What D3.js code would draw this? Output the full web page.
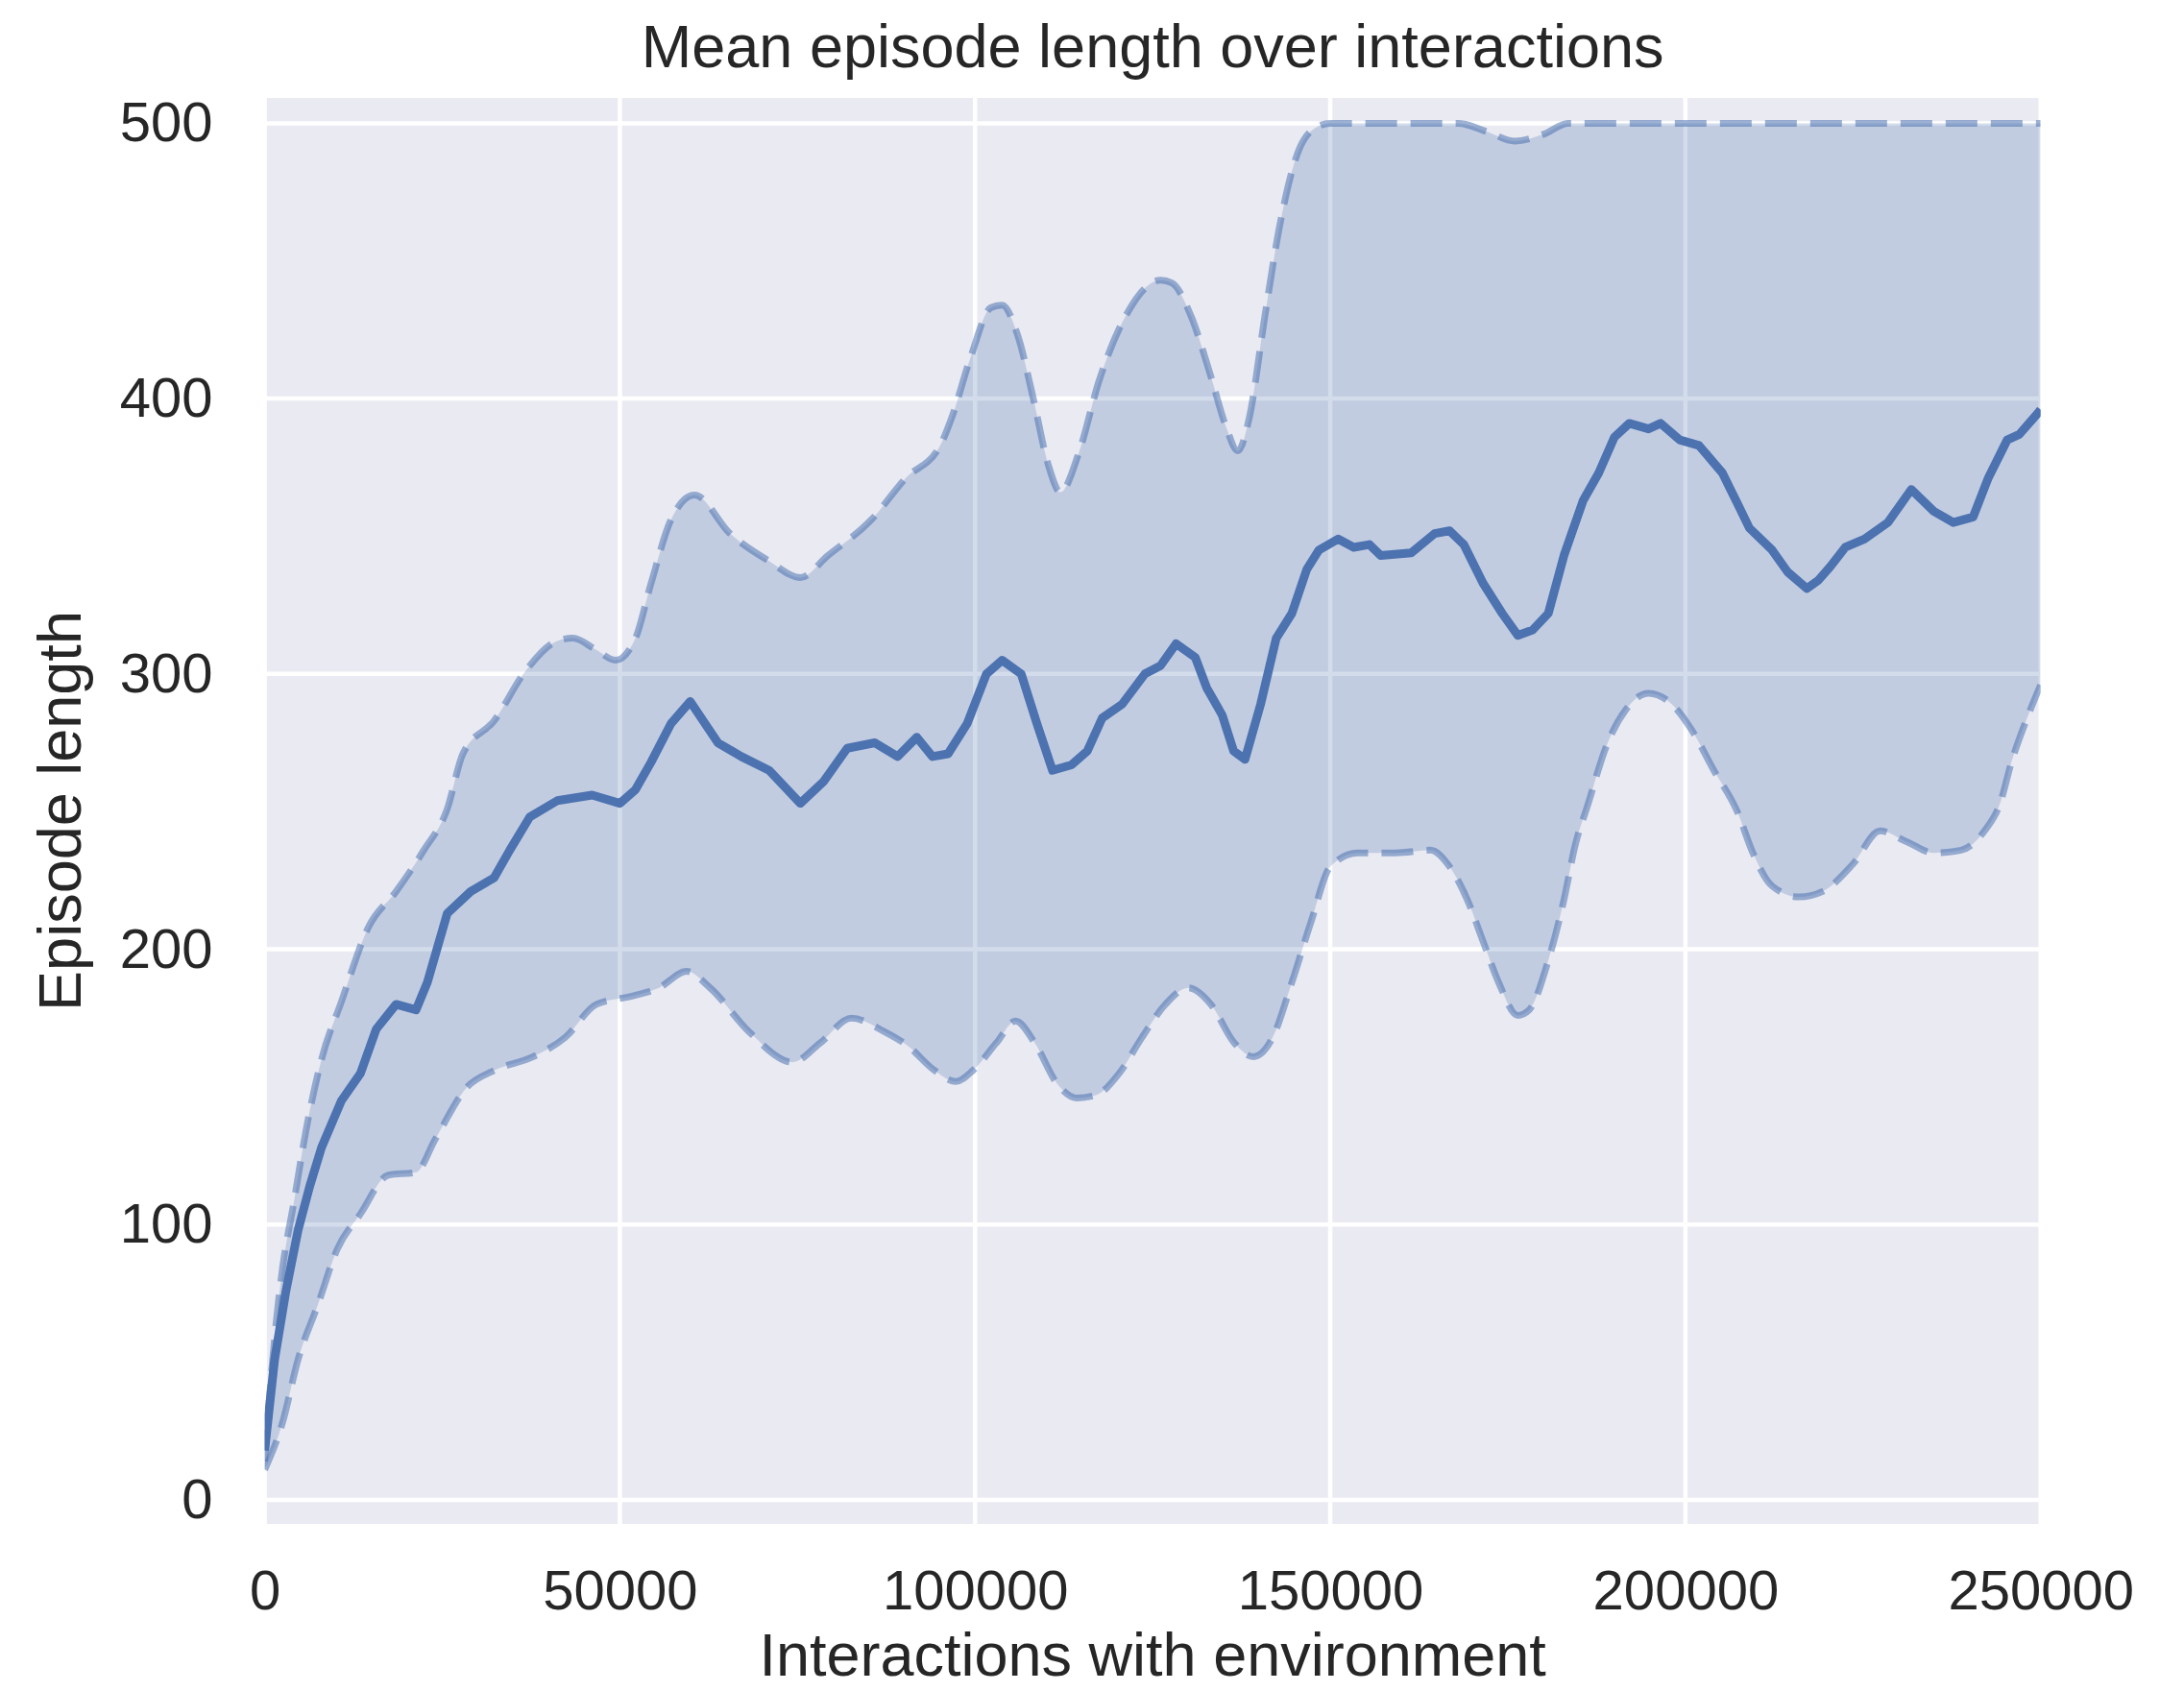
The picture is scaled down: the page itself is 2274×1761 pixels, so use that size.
<!DOCTYPE html>
<html>
<head>
<meta charset="utf-8">
<script src="https://cdn.jsdelivr.net/npm/d3@7"></script>
<style>
  body { margin: 0; background: #fff; }
  text { font-family: "Liberation Sans", Arial, sans-serif; fill: #262626; }
</style>
</head>
<body>
<svg width="2274" height="1761"></svg>
<script>
var svg = d3.select('svg');

// mean curve
var meanX = [0, 1400, 3000, 4700, 6350, 8000, 10800, 13500, 15700, 18500, 21300, 22900, 25700, 29000, 32300, 34500, 37300, 41200, 46100, 50000,
    52200, 54400, 57200, 59900, 63800, 67100, 71000, 75400, 78700, 82000, 85900, 89100, 91800, 94000, 96200, 98900, 101600, 103800, 106500, 108700,
    110900, 113600, 115800, 117900, 120700, 123900, 126100, 128300, 131000, 132600, 134800, 136400, 138000, 140200, 142400, 144600, 146700, 148400,
    151100, 153300, 155500, 157100, 161400, 164700, 166800, 168800, 171500, 174200, 176400, 178500, 180700, 182900, 185600, 187800, 190000, 192100,
    194800, 196500, 199200, 201900, 205200, 207300, 209000, 212200, 214400, 217100, 218700, 220400, 222500, 225200, 228500, 231800, 235000, 237700,
    240500, 242600, 245300, 247000, 249700, 250000];
var meanY = [18, 51, 76, 98, 114, 128, 145, 155, 171, 180, 178, 188, 213, 221, 226, 236, 248, 254, 256, 253,
    258, 268, 282, 290, 275, 270, 265, 253, 261, 273, 275, 270, 277, 270, 271, 282, 300, 305, 300, 282,
    265, 267, 272, 284, 289, 300, 303, 311, 306, 295, 285, 272, 269, 289, 313, 322, 338, 345,
    349, 346, 347, 343, 344, 351, 352, 347, 333, 322, 314, 316, 322, 343, 363, 373, 386, 391,
    389, 391, 385, 383, 373, 362, 353, 345, 337, 331, 334, 339, 346, 349, 355, 367, 359, 355,
    357, 371, 385, 387, 395, 396];

// upper bound (dashed)
var upperX = [0, 1400, 2500, 4100, 5800, 8000, 10800, 14600, 18500, 22400, 25700, 27900, 32300, 36700, 41200, 43400, 46500, 49400, 52200, 54400,
    57200, 60500, 65500, 71000, 75400, 79300, 85400, 90200, 95100, 96700, 99500, 102200, 103800, 106000, 108200, 110300, 112000, 114700, 117400,
    121200, 126100, 127700, 130400, 133200, 135300, 137000, 138600, 140800, 142900, 145700, 148400, 150000, 168000, 172000, 176000, 180000, 183500, 250000];
var upperY = [14, 59, 84, 108, 134, 160, 181, 208, 221, 236, 251, 271, 283, 301, 312, 313, 309, 305, 313, 333,
    356, 365, 351, 341, 335, 343, 356, 371, 383, 393, 416, 433, 434, 423, 400, 376, 366, 381, 406,
    430, 443, 442, 430, 408, 390, 381, 393, 430, 463, 491, 499, 500, 500, 497, 493.5, 496, 500, 500];

// lower bound (dashed)
var lowerX = [0, 2500, 4700, 7500, 10200, 13500, 17400, 21300, 24000, 28500, 32300, 37800, 42300, 46700, 51700, 55500, 59400, 62700, 68200, 74300,
    78200, 82600, 87300, 90500, 94300, 97300, 99700, 103000, 105700, 108400, 111600, 114300, 117000, 120300, 123500, 126800, 130000, 133200, 136500,
    139200, 141900, 144600, 147300, 150000, 153800, 159200, 164100, 166800, 169300, 171500, 173700, 176400, 178000, 180700, 182900, 184500, 186200,
    188900, 191600, 194800, 198100, 200800, 204000, 207300, 209500, 212200, 216000, 219300, 223600, 227400, 231200, 235000, 238800, 242100, 244300,
    245900, 248100, 250000];
var lowerY = [11, 28, 51, 71, 91, 104, 118, 119, 131, 150, 156, 161, 168, 180, 183, 186, 192, 186, 170, 159,
    166, 175, 170, 165, 156, 152, 156, 166, 174, 166, 151, 146, 147, 155, 168, 180, 186, 180, 166,
    161, 168, 188, 210, 230, 235, 235, 236, 230, 218, 203, 188, 176, 178, 196, 218, 238, 252,
    274, 287, 293, 289, 280, 265, 250, 235, 223, 219, 221, 231, 243, 239, 235, 236, 243, 253,
    268, 284, 296];

var xTicks = [0, 50000, 100000, 150000, 200000, 250000];
var yTicks = [0, 100, 200, 300, 400, 500];

var plotLeft = 275.6, plotRight = 2124.7, plotTop = 102, plotBottom = 1587;

var x = d3.scaleLinear().domain([0, 250000]).range([plotLeft, plotRight]);
var y = d3.scaleLinear().domain([-8.7, 509.2]).range([plotBottom, plotTop]);

var blue = '#4C72B0';

// background
svg.append('rect')
    .attr('x', plotLeft).attr('y', plotTop)
    .attr('width', plotRight - plotLeft).attr('height', plotBottom - plotTop)
    .attr('fill', '#EAEAF2');

// grid
svg.selectAll('.hgrid')
    .data(yTicks)
    .enter()
    .append('line')
    .attr('x1', plotLeft).attr('x2', plotRight)
    .attr('y1', function (d) { return y(d); })
    .attr('y2', function (d) { return y(d); })
    .attr('stroke', '#fff').attr('stroke-width', 4.5);

svg.selectAll('.vgrid')
    .data(xTicks)
    .enter()
    .append('line')
    .attr('y1', plotTop).attr('y2', plotBottom)
    .attr('x1', function (d) { return x(d); })
    .attr('x2', function (d) { return x(d); })
    .attr('stroke', '#fff').attr('stroke-width', 4.5);

function pts(xs, ys) {
    return xs.map(function (d, i) { return [d, ys[i]]; });
}
var meanPts = pts(meanX, meanY);
var upperPts = pts(upperX, upperY);
var lowerPts = pts(lowerX, lowerY);

var defs = svg.append('defs');
defs.append('clipPath').attr('id', 'clip')
    .append('rect')
    .attr('x', plotLeft).attr('y', plotTop)
    .attr('width', plotRight - plotLeft).attr('height', plotBottom - plotTop);

// region above the lower bound, used to cut the band
defs.append('clipPath').attr('id', 'aboveLower')
    .append('path')
    .attr('d', d3.area()
        .x(function (d) { return x(d[0]); })
        .y0(plotTop - 50)
        .y1(function (d) { return y(d[1]); })
        .curve(d3.curveMonotoneX)(lowerPts));

var g = svg.append('g').attr('clip-path', 'url(#clip)');

// shaded band: area under upper, clipped to above lower
g.append('g').attr('clip-path', 'url(#aboveLower)')
    .append('path')
    .attr('d', d3.area()
        .x(function (d) { return x(d[0]); })
        .y0(plotBottom + 50)
        .y1(function (d) { return y(d[1]); })
        .curve(d3.curveMonotoneX)(upperPts))
    .attr('fill', blue)
    .attr('fill-opacity', 0.25);

var smooth = d3.line()
    .x(function (d) { return x(d[0]); })
    .y(function (d) { return y(d[1]); })
    .curve(d3.curveMonotoneX);

[upperPts, lowerPts].forEach(function (p) {
    g.append('path')
        .attr('d', smooth(p))
        .attr('fill', 'none')
        .attr('stroke', blue)
        .attr('stroke-opacity', 0.55)
        .attr('stroke-width', 7)
        .attr('stroke-dasharray', '33,14');
});

var straight = d3.line()
    .x(function (d) { return x(d[0]); })
    .y(function (d) { return y(d[1]); });

g.append('path')
    .attr('d', straight(meanPts))
    .attr('fill', 'none')
    .attr('stroke', blue)
    .attr('stroke-width', 9)
    .attr('stroke-linejoin', 'round');

// axes
var xAxis = svg.append('g')
    .attr('transform', 'translate(0,' + plotBottom + ')')
    .call(d3.axisBottom(x).tickValues(xTicks).tickSize(0).tickPadding(48).tickFormat(d3.format('d')));
xAxis.select('.domain').remove();
xAxis.selectAll('text').style('font-size', '58px').attr('fill', '#262626')
    .style('font-family', '"Liberation Sans", Arial, sans-serif');

var yAxis = svg.append('g')
    .attr('transform', 'translate(' + plotLeft + ',0)')
    .call(d3.axisLeft(y).tickValues(yTicks).tickSize(0).tickPadding(54).tickFormat(d3.format('d')));
yAxis.select('.domain').remove();
yAxis.selectAll('text').style('font-size', '58px').attr('fill', '#262626')
    .style('font-family', '"Liberation Sans", Arial, sans-serif');

// labels
svg.append('text')
    .attr('x', (plotLeft + plotRight) / 2).attr('y', 70)
    .attr('text-anchor', 'middle')
    .style('font-size', '63px')
    .text('Mean episode length over interactions');

svg.append('text')
    .attr('x', (plotLeft + plotRight) / 2).attr('y', 1745)
    .attr('text-anchor', 'middle')
    .style('font-size', '63px')
    .text('Interactions with environment');

svg.append('text')
    .attr('transform', 'translate(84,' + (plotTop + plotBottom) / 2 + ') rotate(-90)')
    .attr('text-anchor', 'middle')
    .style('font-size', '63px')
    .text('Episode length');
</script>
</body>
</html>
